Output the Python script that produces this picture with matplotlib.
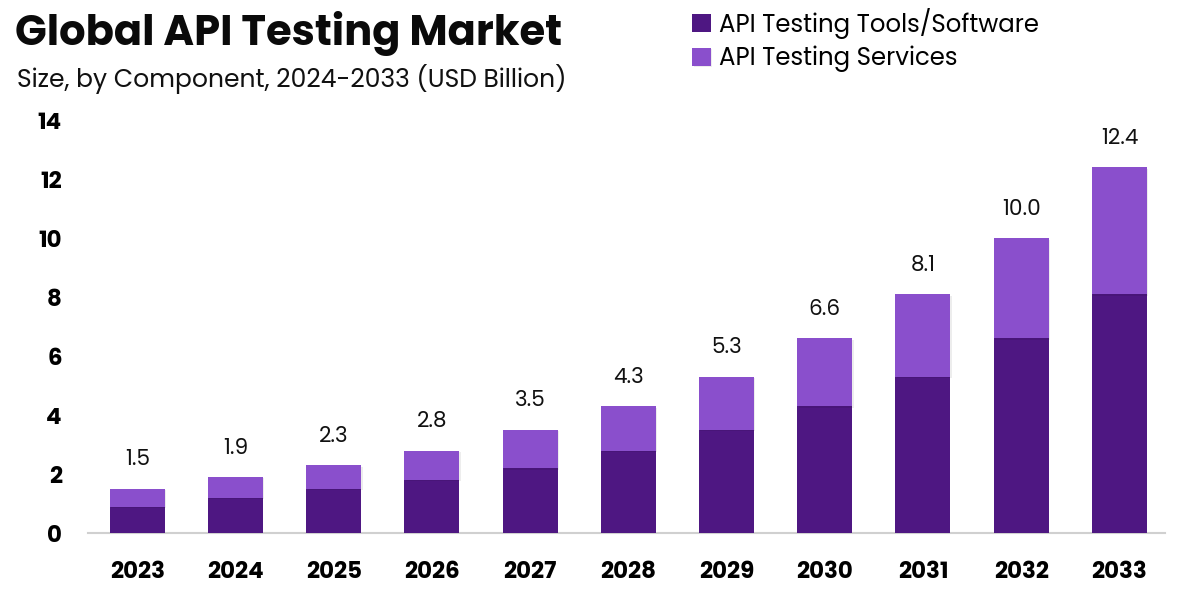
import numpy as np
import matplotlib.pyplot as plt
import matplotlib.patheffects as pe

years = ['2023', '2024', '2025', '2026', '2027', '2028', '2029', '2030', '2031', '2032', '2033']
totals = [1.5, 1.9, 2.3, 2.8, 3.5, 4.3, 5.3, 6.6, 8.1, 10.0, 12.4]
tools = [0.9, 1.2, 1.5, 1.8, 2.2, 2.8, 3.5, 4.3, 5.3, 6.6, 8.1]
services = [t - s for t, s in zip(totals, tools)]

dark = '#4e1782'
light = '#8a4fcc'

plt.rcParams['font.family'] = ['Poppins', 'Inter', 'DejaVu Sans']

fig = plt.figure(figsize=(11.92, 5.95), dpi=100)
ax = fig.add_axes([0.074, 0.104, 0.903, 0.694])

x = np.arange(len(years))
shadow = [pe.SimplePatchShadow(offset=(1, -1), shadow_rgbFace='#000000', alpha=0.07), pe.Normal()]
b1 = ax.bar(x, tools, width=0.56, color=dark, label='API Testing Tools/Software', zorder=3)
b2 = ax.bar(x, services, width=0.56, bottom=tools, color=light, label='API Testing Services',
            path_effects=shadow, zorder=3)

for xi, t in zip(x, totals):
    ax.annotate(f'{t:.1f}', (xi, t), xytext=(0, 20.5), textcoords='offset points',
                ha='center', va='center', fontsize=15.5, color='#111111')

ax.set_xlim(-0.5, 10.46)
ax.set_ylim(0, 14)
ax.set_yticks(range(0, 15, 2))
ax.set_xticks(x)
ax.set_xticklabels(years)
ax.tick_params(axis='both', length=0, labelsize=16.5)
ax.tick_params(axis='x', pad=20)
ax.tick_params(axis='y', pad=19)
for lab in ax.get_xticklabels() + ax.get_yticklabels():
    lab.set_fontweight('bold')

for s in ['top', 'right', 'left']:
    ax.spines[s].set_visible(False)
ax.spines['bottom'].set_color('#d0d0d0')
ax.spines['bottom'].set_linewidth(1.5)

fig.text(0.013, 0.943, 'Global API Testing Market', fontsize=30, fontweight='bold',
         ha='left', va='center', color='#0a0a0a')
fig.text(0.014, 0.867, 'Size, by Component, 2024-2033 (USD Billion)', fontsize=18,
         ha='left', va='center', color='#111111')

ax.legend(handles=[b1, b2], loc='upper left', bbox_to_anchor=(0.5665, 1.016),
          bbox_transform=fig.transFigure, frameon=False, fontsize=17.6,
          handlelength=0.75, handleheight=0.75, handletextpad=0.35, labelspacing=0.3,
          borderaxespad=0.3)

fig.savefig('out.png', dpi=100, facecolor='white')
